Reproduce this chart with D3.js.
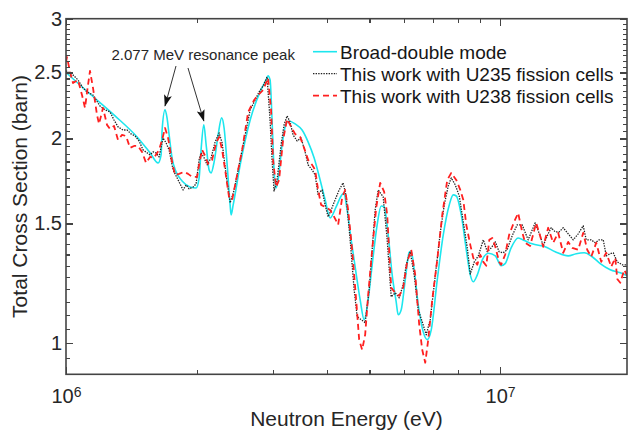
<!DOCTYPE html>
<html>
<head>
<meta charset="utf-8">
<script src="https://cdn.jsdelivr.net/npm/d3@7"></script>
<style>
  html, body { margin: 0; padding: 0; background: #fff; }
  svg { display: block; font-family: "Liberation Sans", Arial, Helvetica, sans-serif; }
</style>
</head>
<body>
<svg id="chart" width="628" height="431"></svg>
<script>
// Total neutron cross section vs. energy (energies in MeV, cross sections in barn)
const broadE = [1.000,1.136,1.297,1.458,1.562,1.630,1.656,1.665,1.691,1.709,1.728,1.755,1.793,1.851,1.931,1.994,2.026,2.047,2.077,2.103,2.136,2.159,2.194,2.241,2.283,2.313,2.351,2.388,2.401,2.427,2.519,2.656,2.799,2.890,2.920,2.952,2.983,3.015,3.047,3.080,3.146,3.213,3.265,3.371,3.498,3.611,3.728,3.849,3.953,4.059,4.190,4.303,4.361,4.442,4.538,4.635,4.760,4.862,4.966,5.073,5.209,5.321,5.407,5.523,5.641,5.762,5.824,5.918,6.045,6.174,6.240,6.341,6.477,6.651,6.794,6.939,7.164,7.396,7.635,7.799,7.924,8.138,8.357,8.536,8.673,8.859,9.098,9.392,9.748,10.053,10.269,10.601,11.003,11.419,11.852,12.699,13.392,14.349,14.971,15.621,16.299,17.006,17.934,18.912,19.628];
const broadXS = [2.50,2.325,2.159,2.010,1.905,1.841,1.892,2.058,2.203,2.144,2.024,1.873,1.786,1.732,1.697,1.691,1.750,1.924,2.094,1.957,1.798,1.780,1.848,2.024,2.144,2.072,1.829,1.597,1.544,1.597,1.829,2.129,2.341,2.438,2.472,2.438,2.129,1.798,1.691,1.738,1.957,2.101,2.122,2.101,2.058,1.977,1.873,1.738,1.625,1.528,1.586,1.646,1.663,1.570,1.419,1.295,1.158,1.083,1.158,1.304,1.493,1.591,1.586,1.443,1.260,1.150,1.101,1.120,1.239,1.360,1.365,1.282,1.139,1.039,1.012,1.046,1.239,1.443,1.597,1.652,1.646,1.544,1.372,1.260,1.231,1.260,1.326,1.356,1.344,1.300,1.309,1.381,1.428,1.414,1.400,1.386,1.363,1.344,1.354,1.358,1.340,1.309,1.282,1.269,1.256];

const u235E = [1.000,1.0324,1.0657,1.0943,1.1178,1.1540,1.1977,1.2299,1.2630,1.2901,1.3178,1.3533,1.3823,1.4120,1.4423,1.4733,1.5048,1.5371,1.5618,1.5870,1.6124,1.6383,1.6734,1.7003,1.7276,1.7647,1.8122,1.8609,1.8908,1.9212,1.9624,1.9938,2.0258,2.0474,2.0803,2.1137,2.1591,2.2055,2.2528,2.2890,2.3381,2.3883,2.4395,2.5185,2.5862,2.6558,2.7272,2.7842,2.8440,2.9050,2.9516,2.9831,3.0150,3.0633,3.1292,3.1794,3.2304,3.2823,3.3350,3.4066,3.4797,3.5544,3.6115,3.6889,3.7482,3.8084,3.8490,3.8901,3.9526,4.0161,4.0805,4.1681,4.2577,4.3490,4.4188,4.5137,4.6106,4.6846,4.7851,4.8879,4.9928,5.0730,5.1544,5.2372,5.3781,5.4935,5.6115,5.7319,5.8551,5.9807,6.0767,6.2072,6.3405,6.4766,6.6155,6.7576,6.9027,7.0509,7.2791,7.4354,7.5950,7.7168,7.8825,8.0518,8.2246,8.4011,8.5361,8.7194,8.9066,9.1462,9.3424,9.5430,9.7479,9.9471,10.161,10.379,10.658,10.945,11.239,11.603,12.042,12.366,12.565,12.834,13.110,13.392,13.679,13.973,14.349,14.735,15.132,15.538,15.788,16.213,16.561,16.916,17.280,17.557,17.934,18.222,18.613,19.114,19.628];
const u235XS = [2.514,2.488,2.438,2.373,2.341,2.317,2.232,2.203,2.188,2.129,2.080,2.058,2.058,2.031,2.017,1.983,1.924,1.905,1.892,1.911,1.905,1.879,2.003,1.970,1.924,1.798,1.738,1.680,1.709,1.686,1.697,1.715,1.860,1.905,1.873,1.829,1.873,1.977,2.038,1.970,1.768,1.608,1.680,1.860,2.024,2.203,2.278,2.341,2.389,2.463,2.129,1.860,1.674,1.738,1.957,2.094,2.159,2.115,2.024,1.983,2.003,1.911,1.829,1.798,1.768,1.652,1.669,1.680,1.597,1.534,1.570,1.625,1.680,1.721,1.646,1.419,1.198,1.094,1.083,1.072,1.198,1.372,1.570,1.680,1.641,1.419,1.170,1.186,1.166,1.219,1.304,1.363,1.260,1.120,1.075,1.029,1.083,1.219,1.453,1.597,1.703,1.750,1.709,1.646,1.508,1.381,1.264,1.317,1.344,1.419,1.363,1.381,1.409,1.363,1.358,1.372,1.438,1.493,1.493,1.419,1.503,1.438,1.390,1.438,1.478,1.458,1.458,1.478,1.448,1.419,1.448,1.488,1.419,1.419,1.405,1.419,1.419,1.344,1.354,1.358,1.317,1.304,1.304];

const u238E = [1.000,1.0053,1.0215,1.0378,1.0657,1.0886,1.1060,1.1238,1.1358,1.1540,1.1787,1.1914,1.2169,1.2430,1.2630,1.2901,1.3178,1.3461,1.3750,1.4045,1.4347,1.4655,1.4969,1.5290,1.5618,1.5954,1.6383,1.6646,1.6913,1.7185,1.7553,1.7835,1.8218,1.8708,1.9110,1.9520,2.0045,2.0258,2.0583,2.0914,2.1250,2.1706,2.2172,2.2528,2.2890,2.3257,2.3757,2.4138,2.4655,2.5454,2.6278,2.7128,2.7695,2.8440,2.9205,2.9673,2.9990,3.0471,3.0962,3.1626,3.2304,3.2998,3.3706,3.4613,3.5356,3.6115,3.6889,3.7482,3.8084,3.8695,3.9526,4.0589,4.1461,4.2351,4.3260,4.3954,4.4661,4.5619,4.6598,4.7346,4.8106,4.8879,4.9665,5.0730,5.1818,5.2931,5.4067,5.4935,5.6115,5.7319,5.8551,5.9807,6.1090,6.2402,6.3742,6.5111,6.6155,6.7218,6.8298,6.9763,7.1640,7.3568,7.5547,7.7168,7.9244,8.0946,8.2246,8.3566,8.5361,8.6733,8.8591,9.0016,9.1462,9.2930,9.4423,9.5938,9.7479,9.9471,10.053,10.269,10.489,10.772,11.003,11.239,11.419,11.727,12.106,12.366,12.565,12.903,13.251,13.607,13.973,14.349,14.657,15.132,15.538,15.872,16.213,16.649,17.096,17.557,18.029,18.416,18.613,18.912,19.318,19.628];
const u238XS = [2.591,2.635,2.505,2.413,2.438,2.317,2.218,2.397,2.514,2.373,2.166,2.101,2.218,2.094,2.065,2.087,1.990,2.024,2.017,1.937,1.950,1.950,1.911,1.841,1.879,1.873,1.924,1.990,2.072,2.003,1.848,1.768,1.774,1.786,1.774,1.756,1.756,1.829,1.924,1.886,1.835,1.860,1.970,2.010,1.924,1.798,1.636,1.625,1.738,1.924,2.188,2.278,2.317,2.357,2.455,2.203,1.860,1.697,1.738,1.990,2.136,2.080,2.031,2.010,1.937,1.860,1.829,1.798,1.680,1.597,1.586,1.570,1.534,1.493,1.636,1.680,1.570,1.372,1.158,1.012,0.978,1.029,1.178,1.372,1.581,1.721,1.669,1.544,1.207,1.186,1.174,1.207,1.317,1.372,1.260,1.064,0.978,0.936,1.012,1.158,1.326,1.544,1.738,1.780,1.738,1.680,1.625,1.493,1.395,1.335,1.304,1.349,1.317,1.300,1.419,1.428,1.386,1.317,1.304,1.349,1.443,1.508,1.554,1.458,1.405,1.390,1.503,1.438,1.386,1.478,1.405,1.453,1.358,1.409,1.381,1.372,1.453,1.372,1.340,1.405,1.317,1.358,1.295,1.335,1.243,1.227,1.282,1.256];

// Axis ticks and limits
const xLimits = [1e6, 1.96e7];
const yLimits = [0.9, 3];
const xMajorTicks = [1e6, 1e7];
const xMinorTicks = [2e6, 3e6, 4e6, 5e6, 6e6, 7e6, 8e6, 9e6];
const yMajorTicks = [1, 1.5, 2, 2.5, 3];
const yMinorTicks = d3.range(18, 61).map(i => i / 20).filter(v => !yMajorTicks.includes(v));

// Annotated resonance peaks (MeV) on the broad-double curve
const peakLabel = "2.077 MeV resonance peak";
const peakEnergies = [1.691, 2.077];

const seriesNames = ["Broad-double mode", "This work with U235 fission cells", "This work with U238 fission cells"];

const box = { left: 66, right: 627, top: 18.7, bottom: 374.3 };
const frameColor = "#444";
const textColor = "#262626";

const svg = d3.select("#chart");
const x = d3.scaleLog().domain(xLimits).range([box.left, box.right]);
const y = d3.scaleLog().domain(yLimits).range([box.bottom, box.top]);

const series = [
  { name: seriesNames[0], E: broadE, XS: broadXS, color: "#1de6ee", width: 1.6, dash: null, curve: d3.curveMonotoneX },
  { name: seriesNames[1], E: u235E, XS: u235XS, color: "#222", width: 1.3, dash: "1.4,1.2", curve: d3.curveLinear },
  { name: seriesNames[2], E: u238E, XS: u238XS, color: "#ff1f1f", width: 1.8, dash: "6,4", curve: d3.curveLinear }
];

// Clip region for the data lines
svg.append("defs").append("clipPath").attr("id", "plotClip")
  .append("rect")
  .attr("x", box.left).attr("y", box.top)
  .attr("width", box.right - box.left).attr("height", box.bottom - box.top);

// Arrowhead marker
svg.select("defs").append("marker")
  .attr("id", "arrowHead")
  .attr("viewBox", "0 -5 12 10")
  .attr("refX", 11).attr("refY", 0)
  .attr("markerUnits", "userSpaceOnUse")
  .attr("markerWidth", 12).attr("markerHeight", 10)
  .attr("orient", "auto")
  .append("path")
  .attr("d", "M0,-4L12,0L0,4L2.5,0Z")
  .attr("fill", "#111");

// Data lines
const lineLayer = svg.append("g").attr("clip-path", "url(#plotClip)");
series.forEach(s => {
  const pts = s.E.map((e, i) => [e * 1e6, s.XS[i]]);
  lineLayer.append("path")
    .datum(pts)
    .attr("fill", "none")
    .attr("stroke", s.color)
    .attr("stroke-width", s.width)
    .attr("stroke-dasharray", s.dash)
    .attr("stroke-linejoin", "round")
    .attr("d", d3.line().x(d => x(d[0])).y(d => y(d[1])).curve(s.curve));
});

// Axes with inward ticks
function styleAxis(g) {
  g.select(".domain").remove();
  g.attr("font-family", null).attr("font-size", null);
  g.selectAll(".tick line")
    .attr("stroke", frameColor)
    .attr("stroke-width", 1.2)
    .attr("shape-rendering", "crispEdges");
}

// bottom
svg.append("g").attr("transform", `translate(0,${box.bottom})`)
  .call(d3.axisBottom(x).tickValues(xMinorTicks).tickSize(-4).tickSizeOuter(0).tickFormat(() => ""))
  .call(styleAxis);
const xAxisG = svg.append("g").attr("transform", `translate(0,${box.bottom})`)
  .call(d3.axisBottom(x).tickValues(xMajorTicks).tickSize(-7).tickSizeOuter(0).tickPadding(14.5).tickFormat(() => ""))
  .call(styleAxis);
xAxisG.selectAll(".tick text").each(function (d) {
  const t = d3.select(this).attr("fill", textColor).attr("font-size", 20);
  t.append("tspan").text("10");
  t.append("tspan").attr("dy", "-0.45em").attr("font-size", 14).text(Math.round(Math.log10(d)));
});

// top
svg.append("g").attr("transform", `translate(0,${box.top})`)
  .call(d3.axisTop(x).tickValues(xMinorTicks).tickSize(-4).tickSizeOuter(0).tickFormat(() => ""))
  .call(styleAxis);
svg.append("g").attr("transform", `translate(0,${box.top})`)
  .call(d3.axisTop(x).tickValues(xMajorTicks).tickSize(-7).tickSizeOuter(0).tickFormat(() => ""))
  .call(styleAxis);

// left
svg.append("g").attr("transform", `translate(${box.left},0)`)
  .call(d3.axisLeft(y).tickValues(yMinorTicks).tickSize(-4).tickSizeOuter(0).tickFormat(() => ""))
  .call(styleAxis);
svg.append("g").attr("transform", `translate(${box.left},0)`)
  .call(d3.axisLeft(y).tickValues(yMajorTicks).tickSize(-7).tickSizeOuter(0).tickPadding(4).tickFormat(d3.format("")))
  .call(styleAxis)
  .selectAll(".tick text").attr("fill", textColor).attr("font-size", 20);

// right
svg.append("g").attr("transform", `translate(${box.right},0)`)
  .call(d3.axisRight(y).tickValues(yMinorTicks).tickSize(-4).tickSizeOuter(0).tickFormat(() => ""))
  .call(styleAxis);
svg.append("g").attr("transform", `translate(${box.right},0)`)
  .call(d3.axisRight(y).tickValues(yMajorTicks).tickSize(-7).tickSizeOuter(0).tickFormat(() => ""))
  .call(styleAxis);

// Frame
svg.append("rect")
  .attr("x", box.left).attr("y", box.top)
  .attr("width", box.right - box.left).attr("height", box.bottom - box.top)
  .attr("fill", "none").attr("stroke", frameColor).attr("stroke-width", 1.6);

// Axis titles
svg.append("text")
  .attr("x", (box.left + box.right) / 2).attr("y", 426)
  .attr("text-anchor", "middle").attr("font-size", 21).attr("fill", textColor)
  .text("Neutron Energy (eV)");
svg.append("text")
  .attr("transform", `translate(27,${(box.top + box.bottom) / 2}) rotate(-90)`)
  .attr("text-anchor", "middle").attr("font-size", 21).attr("fill", textColor)
  .text("Total Cross Section (barn)");

// Legend
const legend = svg.append("g").attr("transform", "translate(313,51.7)");
series.forEach((s, i) => {
  const row = legend.append("g").attr("transform", `translate(0,${i * 22})`);
  row.append("line")
    .attr("x1", 0).attr("x2", 24).attr("y1", 0).attr("y2", 0)
    .attr("stroke", s.color).attr("stroke-width", s.width)
    .attr("stroke-dasharray", s.dash);
  row.append("text")
    .attr("x", 27).attr("y", 6.8)
    .attr("font-size", 19).attr("fill", "#161616")
    .text(s.name);
});

// Resonance annotation with arrows to the broad-double peaks
svg.append("text")
  .attr("x", 111.5).attr("y", 60)
  .attr("font-size", 15).attr("fill", textColor)
  .text(peakLabel);
const arrowStarts = [[176, 66], [188, 68]];
peakEnergies.forEach((e, i) => {
  const idx = broadE.indexOf(e);
  const tx = x(e * 1e6), ty = y(broadXS[idx]) - 4;
  svg.append("line")
    .attr("x1", arrowStarts[i][0]).attr("y1", arrowStarts[i][1])
    .attr("x2", tx).attr("y2", ty)
    .attr("stroke", "#333").attr("stroke-width", 1)
    .attr("marker-end", "url(#arrowHead)");
});
</script>
</body>
</html>
